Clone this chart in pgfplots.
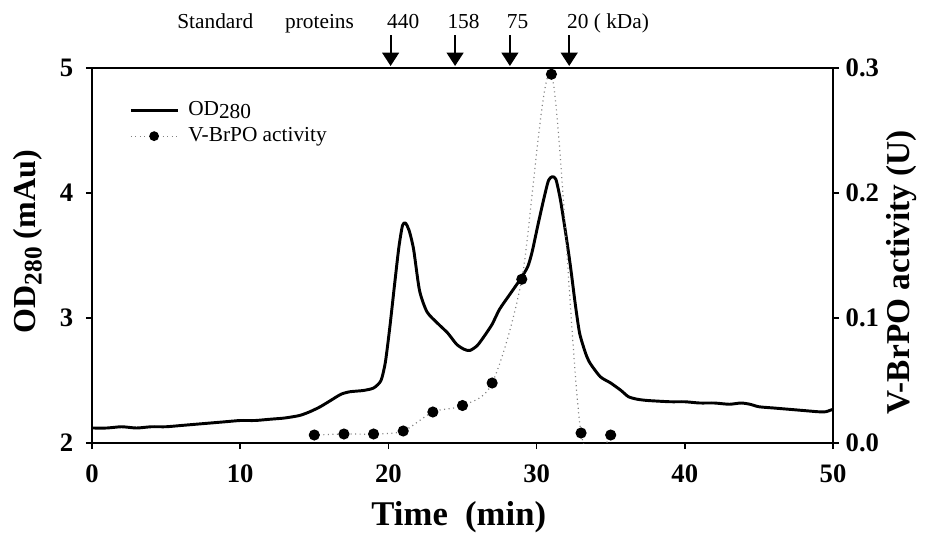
\documentclass[border=0pt]{standalone}
\usepackage{fontspec}
\setmainfont{Liberation Serif}
\usepackage{pgfplots}
\pgfplotsset{compat=1.18}
\usetikzlibrary{arrows.meta}

\pgfplotstableread{
t od
0 2.12
1 2.12
2 2.13
3 2.12
4 2.13
5 2.13
6 2.14
7 2.15
8 2.16
9 2.17
10 2.18
11 2.18
12 2.19
13 2.20
14 2.22
14.7 2.25
15.4 2.29
16.1 2.34
16.8 2.39
17.4 2.41
18.3 2.42
19.0 2.44
19.5 2.50
19.8 2.65
20.1 2.93
20.4 3.25
20.7 3.56
20.95 3.74
21.15 3.76
21.4 3.70
21.7 3.55
22.1 3.22
22.6 3.05
23.3 2.96
24.0 2.88
24.6 2.79
25.1 2.75
25.5 2.74
26.0 2.78
26.5 2.86
27.0 2.95
27.5 3.07
28.2 3.19
28.9 3.31
29.4 3.41
29.7 3.53
30.1 3.75
30.5 3.96
30.8 4.10
31.05 4.13
31.3 4.11
31.6 3.95
32.0 3.65
32.3 3.40
32.6 3.12
32.9 2.88
33.3 2.72
33.6 2.64
34.3 2.53
35.0 2.48
35.7 2.42
36.2 2.37
36.8 2.35
37.5 2.34
39 2.33
40 2.33
41 2.32
42 2.32
43 2.31
43.8 2.32
44.4 2.31
45 2.29
46 2.28
47 2.27
48 2.26
49 2.25
49.5 2.25
50 2.27
}\odtable

\pgfplotstableread{
t act
15 0.0064
17 0.0072
19 0.0072
21 0.0096
23 0.0248
25 0.0300
27 0.0480
29 0.1310
31 0.2950
33 0.0080
35 0.0064
}\acttable

\tikzset{
  actstyle/.style={color=gray, line width=0.9pt, dash pattern=on 0.8pt off 2.6pt,
    mark=*, mark size=3.7pt, mark options={solid, draw=black, fill=black}},
  stdarrow/.style={line width=1.6pt, -{Triangle[width=12.5pt,length=10pt]}},
}
\pgfplotsset{
  base/.style={
    at={(0,0)}, anchor=south west,
    scale only axis, width=555.75pt, height=281.25pt,
    xmin=0, xmax=50,
    tick align=outside, major tick length=4.5pt,
    axis line style={line width=1.3pt},
    tick style={line width=1.3pt, black},
    /pgf/number format/assume math mode=true,
    ticklabel style={font=\fontsize{20}{20}\selectfont\bfseries},
  },
}

\begin{document}
\begin{tikzpicture}[x=1pt,y=1pt]
\useasboundingbox (-69,-70.5) rectangle (630.75,332.25);
\begin{axis}[base,
  ymin=2, ymax=5,
  xtick={0,10,...,50}, ytick={2,3,4,5},
  xtick pos=left, ytick pos=left,
  xticklabel style={yshift=-8pt},
  yticklabel style={xshift=-6pt},
  xlabel={Time\ \ (min)},
  xlabel style={font=\fontsize{26}{26}\selectfont\bfseries,
    at={(axis description cs:0.495,0)}, anchor=base, yshift=-61.5pt},
  ylabel={OD\raisebox{-0.4ex}{\fontsize{19}{19}\selectfont 280} (mAu)},
  ylabel style={font=\fontsize{24}{24}\selectfont\bfseries,
    at={(axis description cs:-0.0864,0.537)}, anchor=center},
  legend style={at={(axis description cs:0.05,0.923)}, anchor=north west,
    draw=none, fill=none, font=\fontsize{16}{16}\selectfont,
    inner sep=0pt, row sep=0pt, column sep=5pt,
    nodes={inner sep=2pt, text height=11.5pt, text depth=4pt}},
  legend cell align=left,
  legend image code/.code={\draw[mark repeat=2,mark phase=2,#1]
    plot coordinates {(0pt,0pt) (17.5pt,0pt) (35pt,0pt)};},
  clip=false,
]
\addplot[black, line width=2.2pt, smooth, tension=0.4, line join=round] table[x=t, y=od] {\odtable};
\addlegendentry{OD\raisebox{-0.35ex}{280}}
\addlegendimage{actstyle, mark size=3.2pt}
\addlegendentry{V-BrPO activity}

% standard protein markers
\draw[stdarrow] (axis cs:20.15,5.264) -- (axis cs:20.15,5.016);
\draw[stdarrow] (axis cs:24.5,5.264) -- (axis cs:24.5,5.016);
\draw[stdarrow] (axis cs:28.2,5.264) -- (axis cs:28.2,5.016);
\draw[stdarrow] (axis cs:32.2,5.264) -- (axis cs:32.2,5.016);
\begin{scope}[every node/.style={font=\fontsize{16}{16}\selectfont, anchor=base west, inner sep=0pt}]
\node at (axis cs:5.74,5.32) {Standard};
\node at (axis cs:13.02,5.32) {proteins};
\node at (axis cs:19.9,5.32) {440};
\node at (axis cs:23.97,5.32) {158};
\node at (axis cs:27.98,5.32) {75};
\node at (axis cs:32.05,5.32) {20 ( kDa)};
\end{scope}
\end{axis}

\begin{axis}[base,
  axis x line=none, axis y line*=right,
  ymin=0, ymax=0.3, ytick={0,0.1,0.2,0.3},
  yticklabel style={xshift=1.5pt, /pgf/number format/.cd, fixed, fixed zerofill, precision=1},
  ylabel={V-BrPO activity (U)},
  ylabel style={font=\fontsize{25}{25}\selectfont\bfseries,
    at={(axis description cs:1.0931,0.4547)}, anchor=center},
]
\addplot[actstyle, smooth, tension=0.5] table[x=t, y=act] {\acttable};
\end{axis}
\end{tikzpicture}
\end{document}
